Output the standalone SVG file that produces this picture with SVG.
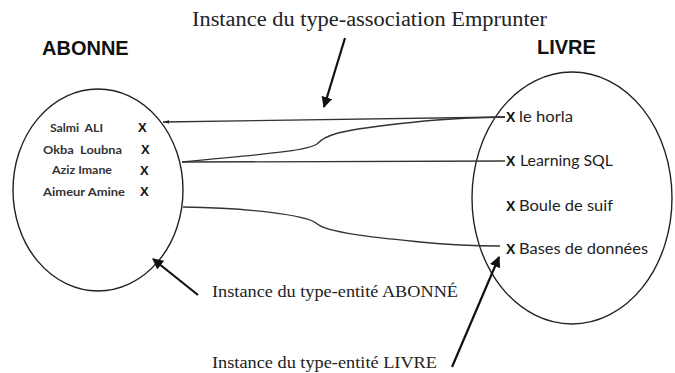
<svg xmlns="http://www.w3.org/2000/svg" width="675" height="373" viewBox="0 0 675 373">
  <defs>
    <style>
      .set { fill: none; stroke: #222; stroke-width: 1.4; }
      .link { fill: none; stroke: #333; stroke-width: 1.3; }
      .pointer { fill: none; stroke: #111; stroke-width: 2.2; }
      .title { font-family: "Liberation Sans", Arial, sans-serif; font-weight: bold; font-size: 20px; fill: #111; }
      .caption { font-family: "Liberation Serif", "Times New Roman", serif; fill: #222; }
      .person { font-family: Lato, "Liberation Sans", sans-serif; font-weight: bold; font-size: 11.5px; fill: #333; white-space: pre; }
      .mark { font-family: "Liberation Sans", Arial, sans-serif; font-weight: bold; fill: #111; }
      .book { font-family: Lato, "Liberation Sans", sans-serif; font-size: 15.5px; fill: #222; }
    </style>
    <marker id="head" viewBox="0 0 10 10" refX="9" refY="5" markerWidth="5" markerHeight="5" markerUnits="strokeWidth" orient="auto">
      <path d="M0,0 L10,5 L0,10 z" fill="#111"/>
    </marker>
    <marker id="tick" viewBox="0 0 10 10" refX="0" refY="5" markerWidth="5" markerHeight="5" orient="auto">
      <path d="M0,5 L10,2 L10,8 z" fill="#222"/>
    </marker>
  </defs>
  <rect width="675" height="373" fill="#fff"/>

  <!-- Captions -->
  <text class="caption" x="192" y="26" font-size="20" textLength="355" lengthAdjust="spacingAndGlyphs">Instance du type-association Emprunter</text>
  <text class="caption" x="212" y="297" font-size="17" textLength="246" lengthAdjust="spacingAndGlyphs">Instance du type-entité ABONNÉ</text>
  <text class="caption" x="212" y="368" font-size="17" textLength="225" lengthAdjust="spacingAndGlyphs">Instance du type-entité LIVRE</text>

  <!-- Entity set: ABONNE -->
  <g id="abonne">
    <text class="title" x="42" y="55">ABONNE</text>
    <ellipse class="set" cx="98" cy="190" rx="85" ry="101"/>
    <text class="person" xml:space="preserve" x="50" y="132" textLength="53" lengthAdjust="spacingAndGlyphs">Salmi  ALI</text>
    <text class="person" xml:space="preserve" x="43" y="154" textLength="79" lengthAdjust="spacingAndGlyphs">Okba  Loubna</text>
    <text class="person" x="52" y="174" textLength="60" lengthAdjust="spacingAndGlyphs">Aziz Imane</text>
    <text class="person" x="43" y="196" textLength="82" lengthAdjust="spacingAndGlyphs">Aimeur Amine</text>
    <text class="mark" x="138" y="132" font-size="13">X</text>
    <text class="mark" x="141" y="154" font-size="13">X</text>
    <text class="mark" x="140" y="175" font-size="13">X</text>
    <text class="mark" x="140" y="196" font-size="13">X</text>
  </g>

  <!-- Entity set: LIVRE -->
  <g id="livre">
    <text class="title" x="537" y="54">LIVRE</text>
    <ellipse class="set" cx="572" cy="198" rx="100" ry="126"/>
    <text class="mark" x="506" y="122" font-size="14">X</text>
    <text class="book" x="519" y="122" textLength="54" lengthAdjust="spacingAndGlyphs">le horla</text>
    <text class="mark" x="506" y="166" font-size="14">X</text>
    <text class="book" x="520" y="166" textLength="93" lengthAdjust="spacingAndGlyphs">Learning SQL</text>
    <text class="mark" x="506" y="211" font-size="14">X</text>
    <text class="book" x="519" y="211" textLength="94" lengthAdjust="spacingAndGlyphs">Boule de suif</text>
    <text class="mark" x="506" y="254" font-size="14">X</text>
    <text class="book" x="519" y="254" textLength="129" lengthAdjust="spacingAndGlyphs">Bases de données</text>
  </g>

  <!-- Borrowing links between the two sets -->
  <g id="links">
    <path class="link" d="M163,122 L505,117" marker-start="url(#tick)"/>
    <path class="link" d="M182,162 C250,155 305,152 317,144 C325,135 340,131 380,126 C420,121 450,118 505,117"/>
    <path class="link" d="M182,162 L505,161"/>
    <path class="link" d="M183,207 C250,208 305,215 316,223 C326,233 380,238 420,242 C450,245 480,246 500,246"/>
  </g>

  <!-- Caption pointers -->
  <g id="pointers">
    <path class="pointer" d="M345,38 L324,107" marker-end="url(#head)"/>
    <path class="pointer" d="M198,295 L153,259" marker-end="url(#head)"/>
    <path class="pointer" d="M452,367 L499,257" marker-end="url(#head)"/>
  </g>
</svg>
